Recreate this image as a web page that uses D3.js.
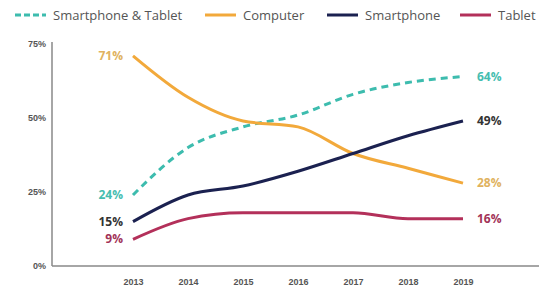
<!DOCTYPE html>
<html>
<head>
<meta charset="utf-8">
<script src="https://cdn.jsdelivr.net/npm/d3@7"></script>
<style>
  body { margin: 0; background: #fff; }
  svg { font-family: "Open Sans", sans-serif; }
</style>
</head>
<body>
<svg width="539" height="296"></svg>
<script>
const years = [2013, 2014, 2015, 2016, 2017, 2018, 2019];
const smartTablet = [24, 40, 47, 51, 58, 62, 64];
const computer = [71, 57, 49, 47, 38, 33, 28];
const smartphone = [15, 24, 27, 32, 38, 44, 49];
const tablet = [9, 16, 18, 18, 18, 16, 16];
const yTicks = [0, 25, 50, 75];

const series = [
  { name: "Smartphone & Tablet", values: smartTablet, color: "#3dbcae", label: "#45bdb0", dash: "7,5" },
  { name: "Computer", values: computer, color: "#f2a93b", label: "#e0b25e", dash: null },
  { name: "Smartphone", values: smartphone, color: "#1b2150", label: "#333", dash: null },
  { name: "Tablet", values: tablet, color: "#b3305a", label: "#a23358", dash: null }
];

const svg = d3.select("svg");

// scales
const x = d3.scalePoint().domain(years).range([133, 463]);
const y = d3.scaleLinear().domain([0, 75]).range([266, 44]);

// axes
svg.append("g")
  .attr("transform", "translate(52,0)")
  .call(d3.axisLeft(y).tickValues(yTicks).tickSize(0).tickFormat(d => d + "%"))
  .call(g => g.select(".domain").attr("stroke", "#888").attr("stroke-width", 1.5).attr("d", "M0,42V266"))
  .call(g => g.selectAll("text").attr("x", -6).attr("fill", "#555").attr("font-size", 9).attr("font-weight", 600));

svg.append("g")
  .attr("transform", "translate(0,266)")
  .call(d3.axisBottom(x).tickSize(0).tickFormat(d => d))
  .call(g => g.select(".domain").attr("stroke", "#888").attr("stroke-width", 1.5).attr("d", "M52,0H539"))
  .call(g => g.selectAll("text").attr("y", 13).attr("fill", "#555").attr("font-size", 9).attr("font-weight", 600));

// lines
const line = d3.line()
  .x((d, i) => x(years[i]))
  .y(d => y(d))
  .curve(d3.curveMonotoneX);

series.forEach(s => {
  svg.append("path")
    .datum(s.values)
    .attr("fill", "none")
    .attr("stroke", s.color)
    .attr("stroke-width", 3)
    .attr("stroke-dasharray", s.dash)
    .attr("d", line);
});

// end labels
series.forEach(s => {
  const first = s.values[0];
  const last = s.values[s.values.length - 1];
  svg.append("text")
    .attr("x", x(years[0]) - 10)
    .attr("y", y(first) + 4)
    .attr("text-anchor", "end")
    .attr("fill", s.label)
    .attr("font-size", 12)
    .attr("font-weight", 700)
    .text(first + "%");
  svg.append("text")
    .attr("x", x(years[years.length - 1]) + 14)
    .attr("y", y(last) + 4)
    .attr("fill", s.label)
    .attr("font-size", 12)
    .attr("font-weight", 700)
    .text(last + "%");
});

// legend
const legendX = [15, 205, 327, 460];
const legend = svg.append("g").attr("transform", "translate(0,15)");
series.forEach((s, i) => {
  const g = legend.append("g").attr("transform", `translate(${legendX[i]},0)`);
  g.append("line")
    .attr("x1", 0).attr("x2", 31)
    .attr("stroke", s.color)
    .attr("stroke-width", 3)
    .attr("stroke-dasharray", s.dash ? "6,3" : null);
  g.append("text")
    .attr("x", 38)
    .attr("y", 4.5)
    .attr("fill", "#555")
    .attr("font-size", 13)
    .text(s.name);
});
</script>
</body>
</html>
